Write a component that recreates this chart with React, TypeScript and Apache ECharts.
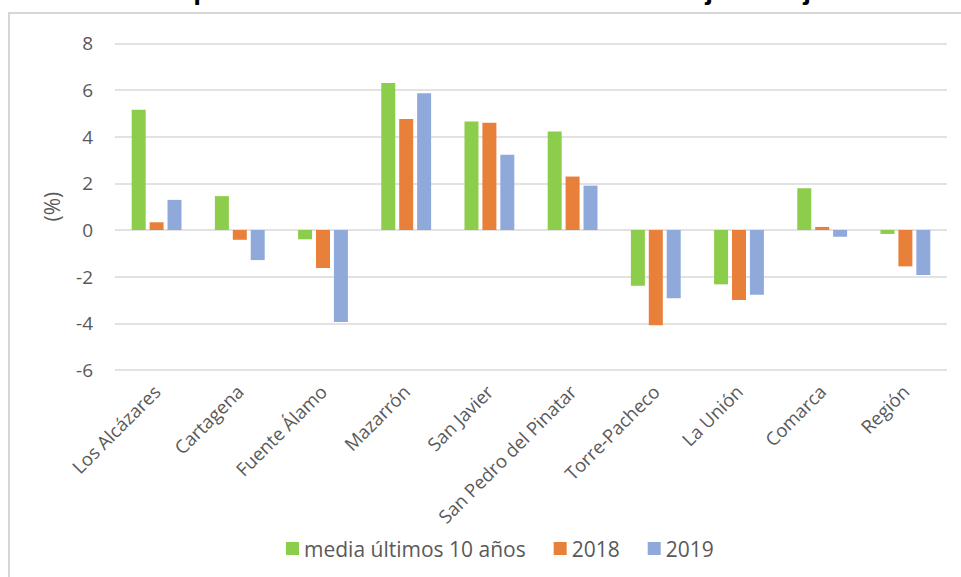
import React, { useEffect, useRef } from "react";
import * as echarts from "echarts";

const categories = [
  "Los Alcázares",
  "Cartagena",
  "Fuente Álamo",
  "Mazarrón",
  "San Javier",
  "San Pedro del Pinatar",
  "Torre-Pacheco",
  "La Unión",
  "Comarca",
  "Región",
];
const media10 = [5.15, 1.45, -0.4, 6.3, 4.65, 4.22, -2.39, -2.33, 1.79, -0.17];
const y2018 = [0.33, -0.42, -1.63, 4.76, 4.6, 2.29, -4.08, -3.0, 0.13, -1.56];
const y2019 = [1.29, -1.29, -3.94, 5.86, 3.22, 1.9, -2.93, -2.78, -0.29, -1.93];
const seriesNames = ["media últimos 10 años", "2018", "2019"];
const titleText = "Variación porcentual del número de afiliados de junio a julio";

const colors = ["#8DCD4C", "#E8803A", "#8FAADA"];
const FONT = "'Open Sans', 'Noto Sans', sans-serif";
const GREY = "#595959";

export default function App() {
  const ref = useRef<HTMLDivElement>(null);
  useEffect(() => {
    document.body.style.margin = "0";
    const chart = echarts.init(ref.current!, null, { renderer: "svg" });
    const data = [media10, y2018, y2019];
    chart.setOption({
      animation: false,
      backgroundColor: "#ffffff",
      textStyle: { fontFamily: FONT },
      graphic: [
        {
          type: "rect",
          shape: { x: 9, y: 13, width: 1000, height: 620 },
          style: { fill: "none", stroke: "#D6D6D6", lineWidth: 2 },
          silent: true,
        },
        {
          type: "text",
          x: 61,
          y: 3,
          style: {
            text: titleText,
            font: "bold 28px 'Liberation Sans', Arial, sans-serif",
            fill: "#000000",
            textVerticalAlign: "bottom",
            verticalAlign: "bottom",
          },
          silent: true,
        },
      ],
      grid: { left: 115, right: 14, top: 43.3, bottom: 207 },
      legend: {
        left: 281,
        top: 533,
        itemWidth: 13,
        itemHeight: 13,
        itemGap: 28,
        icon: "rect",
        textStyle: { color: GREY, fontSize: 21, fontFamily: FONT },
        data: seriesNames,
      },
      xAxis: {
        type: "category",
        data: categories,
        axisLine: { show: false },
        axisTick: { show: false },
        axisLabel: {
          rotate: 45,
          interval: 0,
          color: GREY,
          fontSize: 18.5,
          fontFamily: FONT,
          margin: 18,
        },
      },
      yAxis: {
        type: "value",
        min: -6,
        max: 8,
        interval: 2,
        name: "(%)",
        nameLocation: "middle",
        nameRotate: 90,
        nameGap: 53,
        nameTextStyle: { color: GREY, fontSize: 21, fontFamily: FONT },
        axisLine: { show: false },
        axisTick: { show: false },
        axisLabel: { color: GREY, fontSize: 19, fontFamily: FONT, margin: 22 },
        splitLine: { lineStyle: { color: "#D9D9D9", width: 1.5 } },
      },
      series: seriesNames.map((name, i) => ({
        name,
        type: "bar",
        data: data[i],
        barWidth: 14,
        barGap: "28%",
        itemStyle: { color: colors[i] },
      })),
    });
    return () => chart.dispose();
  }, []);
  return <div ref={ref} style={{ width: 961, height: 577 }} />;
}
